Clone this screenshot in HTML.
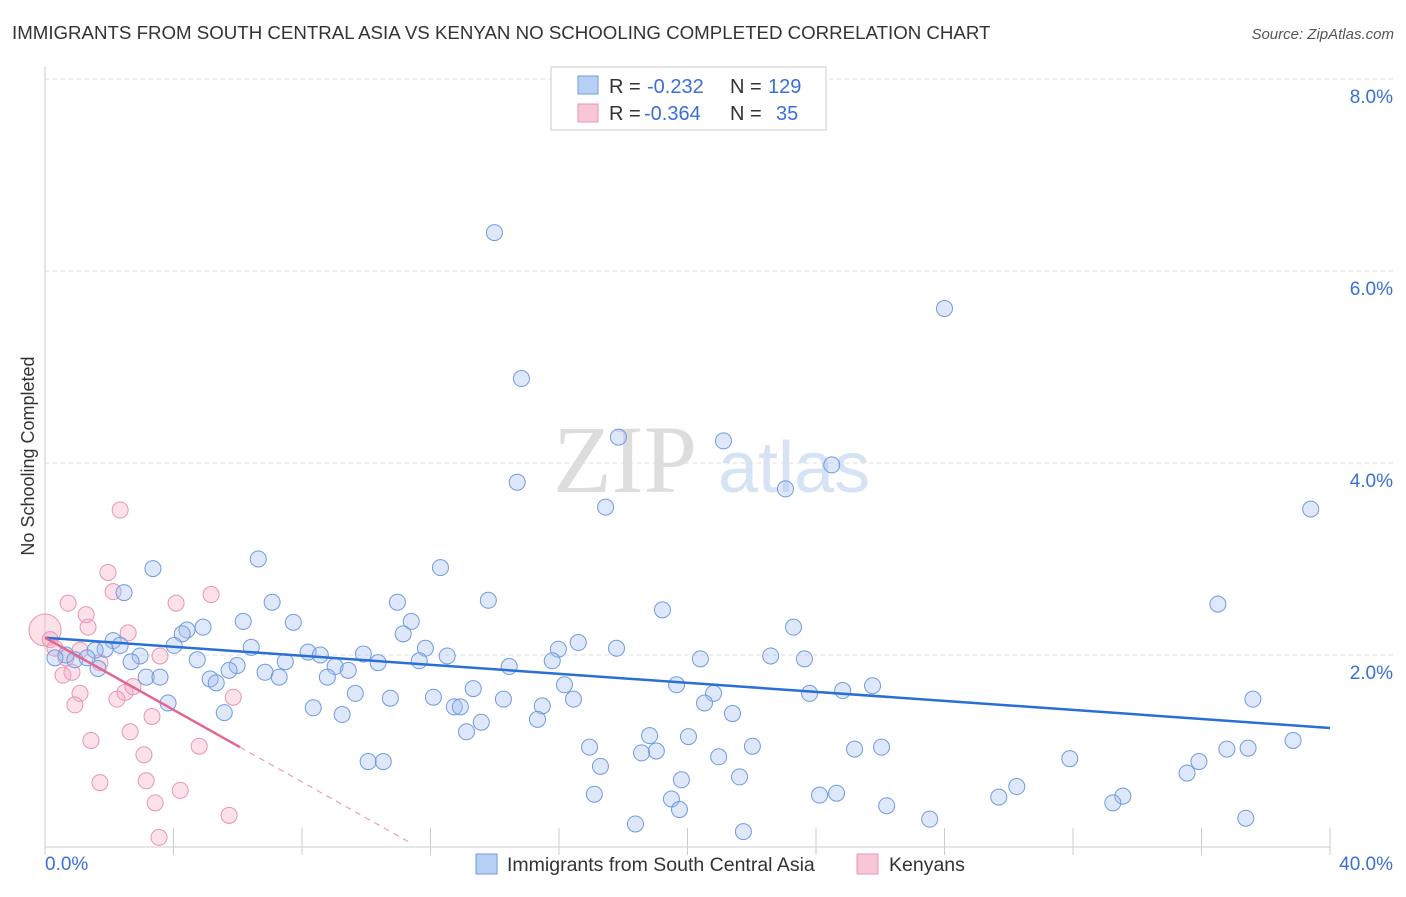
<!DOCTYPE html>
<html><head><meta charset="utf-8">
<style>
body{margin:0;background:#fff;font-family:"Liberation Sans",sans-serif;}
svg text{font-family:"Liberation Sans",sans-serif;}
</style></head>
<body>
<svg id="chart" width="1406" height="892" viewBox="0 0 1406 892">
<text x="12" y="39" font-size="18.7" fill="#333">IMMIGRANTS FROM SOUTH CENTRAL ASIA VS KENYAN NO SCHOOLING COMPLETED CORRELATION CHART</text>
<text x="1394" y="39" font-size="15" fill="#555" font-style="italic" text-anchor="end">Source: ZipAtlas.com</text>
<text x="34" y="456" font-size="18" fill="#333" text-anchor="middle" transform="rotate(-90 34 456)">No Schooling Completed</text>
<g>
<text x="553" y="492" font-size="96" fill="#ddd" style="font-family:'Liberation Serif',serif">ZIP</text>
<text x="718" y="492" font-size="72" fill="#d6e3f5">atlas</text>
</g>
<g id="grid"></g>
<g id="axes"></g>
<g id="marks"></g>
<g>
<rect x="551" y="67" width="275" height="63" fill="#fff" stroke="#ccc"/>
<rect x="578" y="76" width="20" height="18" fill="#b6cff5" stroke="#6f9be0"/>
<rect x="578" y="104" width="20" height="18" fill="#f8c6d6" stroke="#e896b0"/>
<text x="609" y="93" font-size="20" fill="#333">R =</text>
<text x="647" y="93" font-size="20" fill="#3a6fd8">-0.232</text>
<text x="730" y="93" font-size="20" fill="#333">N =</text>
<text x="768" y="93" font-size="20" fill="#3a6fd8">129</text>
<text x="609" y="120" font-size="20" fill="#333">R =</text>
<text x="644" y="120" font-size="20" fill="#3a6fd8">-0.364</text>
<text x="730" y="120" font-size="20" fill="#333">N =</text>
<text x="776" y="120" font-size="20" fill="#3a6fd8">35</text>
</g>
<g>
<rect x="476" y="854" width="21" height="20" fill="#b6cff5" stroke="#6f9be0"/>
<text x="507" y="871" font-size="19.5" fill="#333">Immigrants from South Central Asia</text>
<rect x="857" y="854" width="21" height="20" fill="#f8c6d6" stroke="#e896b0"/>
<text x="889" y="871" font-size="19.5" fill="#333">Kenyans</text>
</g>
</svg>
<script>
const yTicks=[2,4,6,8];
const yTickLabels=["2.0%","4.0%","6.0%","8.0%"];
const xTickValues=[0,4,8,12,16,20,24,28,32,36,40];
const blueX=[13.99,28.0,14.83,17.85,21.12,24.49,14.70,23.05,17.45,39.4,6.64,3.36,12.31,2.46,13.80,7.07,10.97,36.51,19.22,6.17,7.73,11.40,4.92,4.42,4.27,23.30,11.15,2.12,16.60,4.02,2.34,6.42,11.84,17.79,15.98,1.87,1.56,9.91,12.52,8.19,8.57,22.59,0.65,0.31,0.93,1.31,2.96,20.40,23.64,4.74,15.79,11.65,2.68,10.37,7.48,5.98,14.45,9.03,9.44,5.73,1.65,6.85,7.29,8.79,3.15,3.58,5.14,5.33,16.17,19.66,13.33,9.66,12.09,20.81,10.75,14.27,16.45,23.80,24.83,25.76,37.60,3.83,8.35,12.74,12.93,15.48,20.53,5.58,9.25,21.40,13.58,15.33,13.12,18.82,20.03,38.85,16.95,19.03,18.57,22.02,25.20,26.04,36.79,37.45,20.97,17.29,10.06,10.53,31.90,35.92,21.62,19.81,35.55,30.25,17.10,24.11,24.64,29.69,33.55,19.50,33.24,26.20,19.75,27.54,37.38,18.38,21.74];
const blueY=[6.40,5.61,4.88,4.27,4.23,3.98,3.80,3.73,3.54,3.52,3.00,2.90,2.91,2.65,2.57,2.55,2.55,2.53,2.47,2.35,2.34,2.35,2.29,2.26,2.22,2.29,2.22,2.15,2.13,2.10,2.10,2.08,2.07,2.07,2.06,2.06,2.05,2.01,1.99,2.03,2.00,1.99,2.00,1.97,1.95,1.97,1.99,1.96,1.96,1.95,1.94,1.94,1.93,1.92,1.93,1.89,1.88,1.88,1.84,1.84,1.86,1.82,1.77,1.77,1.77,1.77,1.75,1.71,1.69,1.69,1.65,1.60,1.56,1.60,1.55,1.54,1.54,1.60,1.63,1.68,1.54,1.50,1.45,1.46,1.46,1.47,1.50,1.40,1.38,1.39,1.30,1.33,1.20,1.16,1.15,1.11,1.04,1.00,0.98,1.05,1.02,1.04,1.02,1.03,0.94,0.84,0.89,0.89,0.92,0.89,0.73,0.70,0.77,0.63,0.55,0.54,0.56,0.52,0.53,0.50,0.46,0.43,0.39,0.29,0.30,0.24,0.16];
const pinkX=[0,0.16,0.31,0.65,1.09,0.72,1.28,1.34,1.71,2.59,2.34,1.96,2.12,4.08,5.17,3.58,0.56,0.84,1.09,0.93,2.49,2.24,2.74,3.33,2.65,1.43,4.80,3.08,5.86,1.71,3.15,4.21,3.43,5.73,3.55];
const pinkY=[2.26,2.16,2.07,1.97,2.05,2.54,2.42,2.29,1.92,2.23,3.51,2.86,2.66,2.54,2.63,1.99,1.79,1.82,1.60,1.48,1.61,1.54,1.67,1.36,1.20,1.11,1.05,0.96,1.56,0.67,0.69,0.59,0.46,0.33,0.10];
const blueTrend=[2.18,-0.0235];
const pinkTrend=[2.18,-0.1878];
const pinkSolidEnd=6.07, pinkDashEnd=11.37;

const NS="http://www.w3.org/2000/svg";
const X0=45,X1=1330,Y0=847,YPER=96;
const sx=v=>X0+v*(X1-X0)/40;
const sy=v=>Y0-v*YPER;
function mk(tag,attrs,parent){const e=document.createElementNS(NS,tag);for(const k in attrs)e.setAttribute(k,attrs[k]);parent.appendChild(e);return e;}
const grid=document.getElementById('grid'),axes=document.getElementById('axes'),marks=document.getElementById('marks');
yTicks.forEach((t,i)=>{
 const l=mk('line',{x1:X0,x2:1393,y1:sy(t),y2:sy(t),stroke:'#ddd','stroke-dasharray':'4,4'},grid);
 
 
 const tx=mk('text',{x:1393,y:sy(t)+24,'font-size':19,fill:'#3a6fd8','text-anchor':'end'},axes);
 tx.textContent=yTickLabels[i];
 
 
});
mk('line',{x1:X0,x2:X0,y1:67,y2:Y0,stroke:'#ccc'},axes);
mk('line',{x1:X0,x2:X1,y1:Y0,y2:Y0,stroke:'#ccc'},axes);
xTickValues.forEach(t=>{
 const l=mk('line',{x1:sx(t),x2:sx(t),y1:828,y2:Y0+8,stroke:'#ccc'},axes);
 
 
});
const xl=mk('text',{x:45,y:870,'font-size':19,fill:'#3a6fd8'},axes);xl.textContent='0.0%';


const xr=mk('text',{x:1393,y:870,'font-size':19,fill:'#3a6fd8','text-anchor':'end'},axes);xr.textContent='40.0%';



pinkX.forEach((x,i)=>{
 const c=mk('circle',{cx:sx(x),cy:sy(pinkY[i]),r:i===0?16:8,fill:'rgba(245,170,195,0.35)',stroke:'#e896b0','stroke-width':1},marks);
 
 
});
blueX.forEach((x,i)=>{
 const c=mk('circle',{cx:sx(x),cy:sy(blueY[i]),r:8,fill:'rgba(160,190,240,0.35)',stroke:'#6f9be0','stroke-width':1},marks);
 
 
});
const bt=mk('line',{x1:sx(0),y1:sy(blueTrend[0]),x2:sx(40),y2:sy(blueTrend[0]+blueTrend[1]*40),stroke:'#2a6fd6','stroke-width':2.5},marks);


const pt=mk('line',{x1:sx(0),y1:sy(pinkTrend[0]),x2:sx(pinkSolidEnd),y2:sy(pinkTrend[0]+pinkTrend[1]*pinkSolidEnd),stroke:'#e06890','stroke-width':2.5},marks);


const pd=mk('line',{x1:sx(pinkSolidEnd),y1:sy(pinkTrend[0]+pinkTrend[1]*pinkSolidEnd),x2:sx(pinkDashEnd),y2:sy(pinkTrend[0]+pinkTrend[1]*pinkDashEnd),stroke:'#e8a0b8','stroke-width':1.2,'stroke-dasharray':'6,5'},marks);


</script>
</body></html>
